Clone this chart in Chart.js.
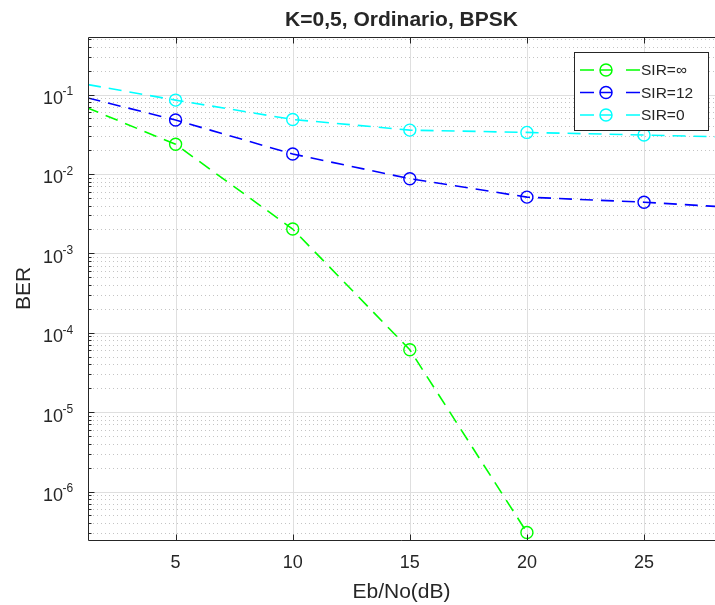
<!DOCTYPE html>
<html>
<head>
<meta charset="utf-8">
<script src="https://cdn.jsdelivr.net/npm/chart.js@4.4.0/dist/chart.umd.min.js"></script>
<style>
  html, body { margin: 0; padding: 0; background: #ffffff; overflow: hidden; }
  #wrap { width: 715px; height: 605px; position: relative; }
  #berChart { display: block; }
</style>
</head>
<body>
<div id="wrap"><canvas id="berChart"></canvas></div>
<script>
// Eb/No (dB) values and BER
const ebno = [0, 5, 10, 15, 20, 25, 30];
const berInf = [0.096, 0.0236, 0.00202, 6.1e-5, 3.05e-7];
const ber12 = [0.112, 0.0477, 0.0178, 0.0087, 0.0051, 0.0044, 0.0036];
const ber0 = [0.155, 0.085, 0.0485, 0.0356, 0.0333, 0.0309, 0.0284];
const seriesLabels = ["SIR=\u221E", "SIR=12", "SIR=0"];
const seriesColors = ["#00ff00", "#0000ff", "#00ffff"];
const xTicks = [5, 10, 15, 20, 25];
const yDecades = [-1, -2, -3, -4, -5, -6];

const textColor = "#262626";
const fontFamily = "'Liberation Sans', Arial, Helvetica, sans-serif";

function toPoints(ys) {
  return ys.map((y, i) => ({ x: ebno[i], y: y }));
}

// grid, axis lines, tick marks and the 10^k labels, MATLAB style
const axesPlugin = {
  id: "matlabAxes",
  beforeDatasetsDraw(chart) {
    const { ctx, chartArea: a, scales: { x, y } } = chart;
    ctx.save();
    ctx.lineWidth = 1;
    // minor dotted grid for log axis
    ctx.strokeStyle = "#c4c4c4";
    ctx.setLineDash([1, 3]);
    yDecades.concat([0, -7]).forEach((k) => {
      for (let m = 2; m <= 9; m++) {
        const v = m * Math.pow(10, k - 1);
        const py = Math.round(y.getPixelForValue(v)) + 0.5;
        if (py < a.top || py > a.bottom) continue;
        ctx.beginPath();
        ctx.moveTo(a.left + 1, py);
        ctx.lineTo(a.right, py);
        ctx.stroke();
      }
    });
    // major grid
    ctx.setLineDash([]);
    ctx.strokeStyle = "#dfdfdf";
    yDecades.forEach((k) => {
      const py = Math.round(y.getPixelForValue(Math.pow(10, k))) + 0.5;
      ctx.beginPath();
      ctx.moveTo(a.left, py);
      ctx.lineTo(a.right, py);
      ctx.stroke();
    });
    xTicks.forEach((t) => {
      const px = Math.round(x.getPixelForValue(t)) + 0.5;
      ctx.beginPath();
      ctx.moveTo(px, a.top);
      ctx.lineTo(px, a.bottom);
      ctx.stroke();
    });
    ctx.restore();
  },
  afterDatasetsDraw(chart) {
    const { ctx, chartArea: a, scales: { x, y } } = chart;
    ctx.save();
    ctx.strokeStyle = textColor;
    ctx.lineWidth = 1;
    const left = Math.round(a.left) + 0.5;
    const top = Math.round(a.top) + 0.5;
    const bottom = Math.round(a.bottom) + 0.5;
    ctx.beginPath();
    ctx.moveTo(left, top);
    ctx.lineTo(a.right, top);
    ctx.moveTo(left, top);
    ctx.lineTo(left, bottom);
    ctx.lineTo(a.right, bottom);
    ctx.stroke();
    // x tick marks, bottom and top
    xTicks.forEach((t) => {
      const px = Math.round(x.getPixelForValue(t)) + 0.5;
      ctx.beginPath();
      ctx.moveTo(px, bottom);
      ctx.lineTo(px, bottom - 6);
      ctx.moveTo(px, top);
      ctx.lineTo(px, top + 6);
      ctx.stroke();
    });
    // y tick marks
    yDecades.concat([0, -7]).forEach((k) => {
      for (let m = 1; m <= 9; m++) {
        const v = m * Math.pow(10, k);
        const py = Math.round(y.getPixelForValue(v)) + 0.5;
        if (py < a.top || py > a.bottom) continue;
        ctx.beginPath();
        ctx.moveTo(left, py);
        ctx.lineTo(left + (m === 1 ? 6 : 3), py);
        ctx.stroke();
      }
    });
    // y labels 10^k
    ctx.fillStyle = textColor;
    ctx.textBaseline = "middle";
    yDecades.forEach((k) => {
      const py = y.getPixelForValue(Math.pow(10, k));
      ctx.font = "12px " + fontFamily;
      ctx.textAlign = "left";
      ctx.fillText(String(k), 62.5, py - 2.5);
      ctx.font = "18px " + fontFamily;
      ctx.textAlign = "right";
      ctx.fillText("10", 63, py + 4.5);
    });
    ctx.restore();
  },
  afterDraw(chart) {
    // legend box in the upper right corner
    const { ctx } = chart;
    ctx.save();
    const bx = 574.5, by = 52.5, bw = 134, bh = 78;
    ctx.fillStyle = "#ffffff";
    ctx.fillRect(bx, by, bw, bh);
    ctx.strokeStyle = "#262626";
    ctx.lineWidth = 1;
    ctx.strokeRect(bx, by, bw, bh);
    const rows = [70, 92.5, 115];
    chart.data.datasets.forEach((ds, i) => {
      const ry = rows[i];
      ctx.strokeStyle = ds.borderColor;
      ctx.lineWidth = 1.5;
      ctx.beginPath();
      ctx.moveTo(580, ry); ctx.lineTo(594, ry);
      ctx.moveTo(600, ry); ctx.lineTo(612, ry);
      ctx.moveTo(626, ry); ctx.lineTo(640, ry);
      ctx.stroke();
      ctx.beginPath();
      ctx.arc(606, ry, 6, 0, Math.PI * 2);
      ctx.stroke();
      ctx.fillStyle = textColor;
      ctx.font = "15.5px " + fontFamily;
      ctx.textAlign = "left";
      ctx.textBaseline = "middle";
      ctx.fillText(ds.label, 641, ry + 1);
    });
    ctx.restore();
  },
};

function makeDataset(label, color, ys) {
  return {
    label: label,
    data: toPoints(ys),
    borderColor: color,
    backgroundColor: "transparent",
    borderWidth: 1.6,
    borderDash: [13, 8],
    borderDashOffset: 12,
    pointStyle: "circle",
    pointRadius: 6,
    pointBorderWidth: 1.4,
    pointBackgroundColor: "transparent",
    pointBorderColor: color,
    tension: 0,
    clip: 0,
  };
}

const ctx = document.getElementById("berChart").getContext("2d");
new Chart(ctx, {
  type: "line",
  data: {
    datasets: [
      makeDataset(seriesLabels[0], seriesColors[0], berInf),
      makeDataset(seriesLabels[1], seriesColors[1], ber12),
      makeDataset(seriesLabels[2], seriesColors[2], ber0),
    ],
  },
  options: {
    responsive: true,
    maintainAspectRatio: false,
    animation: false,
    layout: { padding: 0, autoPadding: false },
    scales: {
      x: {
        type: "linear",
        min: 1.26,
        max: 28.03,
        afterFit: (scale) => {
          scale.height = 65;
          scale.paddingLeft = 0;
          scale.paddingRight = 0;
        },
        grid: { display: false, drawTicks: false },
        border: { display: false },
        ticks: {
          stepSize: 5,
          includeBounds: false,
          padding: 12,
          color: textColor,
          font: { family: fontFamily, size: 18 },
          maxRotation: 0,
        },
        title: {
          display: true,
          text: "Eb/No(dB)",
          color: textColor,
          font: { family: fontFamily, size: 21 },
          padding: { top: 0, bottom: 0.5 },
        },
      },
      y: {
        type: "logarithmic",
        min: 2.45e-7,
        max: 0.53,
        afterFit: (scale) => {
          scale.width = 88;
          scale.paddingTop = 0;
          scale.paddingBottom = 0;
        },
        grid: { display: false, drawTicks: false },
        border: { display: false },
        ticks: { display: false },
        title: {
          display: true,
          text: "BER",
          color: textColor,
          font: { family: fontFamily, size: 21 },
          padding: { top: 11.4, bottom: 0 },
        },
      },
    },
    plugins: {
      legend: { display: false },
      tooltip: { enabled: false },
      title: {
        display: true,
        fullSize: false,
        text: "K=0,5, Ordinario, BPSK",
        color: textColor,
        font: { family: fontFamily, size: 21, weight: "bold" },
        padding: { top: 7.4, bottom: 4.4 },
      },
    },
  },
  plugins: [axesPlugin],
});
</script>
</body>
</html>
